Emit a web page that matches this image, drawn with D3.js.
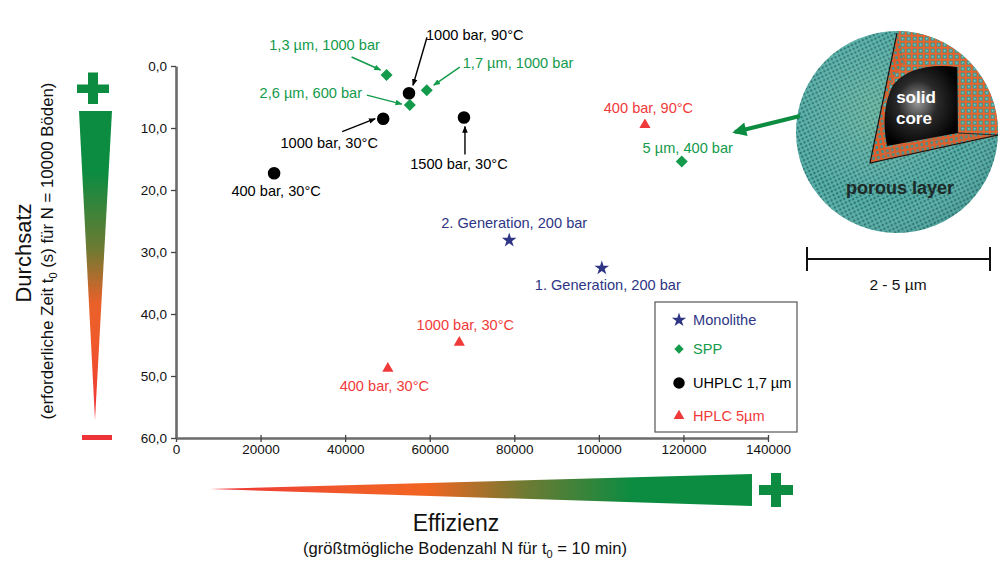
<!DOCTYPE html>
<html><head><meta charset="utf-8">
<script src="https://cdn.jsdelivr.net/npm/d3@7/dist/d3.min.js"></script>
<style>
html,body{margin:0;padding:0;background:#fff;}
svg{display:block;font-family:"Liberation Sans",Arial,sans-serif;}
</style></head>
<body>
<svg id="c" width="1000" height="567"></svg>
<script>
// ---------- data ----------
const xTicks = [0,20000,40000,60000,80000,100000,120000,140000];
const yTicks = [0,10,20,30,40,50,60];
const yTickLabels = ["0,0","10,0","20,0","30,0","40,0","50,0","60,0"];

const monolithe = [
  {x:100700, y:32.6, label:"1. Generation, 200 bar"},
  {x:78800,  y:28.1, label:"2. Generation, 200 bar"}
];
const spp = [
  {x:49800,  y:1.45, label:"1,3 µm, 1000 bar"},
  {x:59300,  y:3.9,  label:"1,7 µm, 1000 bar"},
  {x:55300,  y:6.3,  label:"2,6 µm, 600 bar"},
  {x:119600, y:15.4, label:"5 µm, 400 bar"}
];
const uhplc = [
  {x:55100, y:4.4,  label:"1000 bar, 90°C"},
  {x:49000, y:8.5,  label:"1000 bar, 30°C"},
  {x:68100, y:8.3,  label:"1500 bar, 30°C"},
  {x:23200, y:17.3, label:"400 bar, 30°C"}
];
const hplc = [
  {x:110900, y:9.5,  label:"400 bar, 90°C"},
  {x:67000,  y:44.6, label:"1000 bar, 30°C"},
  {x:50100,  y:48.8, label:"400 bar, 30°C"}
];
const legendNames = ["Monolithe","SPP","UHPLC 1,7 µm","HPLC 5µm"];

// ---------- layout (label offsets relative to marker, arrows) ----------
const layout = {
  monolithe:[{dx:6,dy:17,a:"middle"},{dx:5,dy:-17,a:"middle"}],
  spp:[{dx:-62,dy:-30,a:"middle",ar:[-35,-18,-6,-5]},
       {dx:36,dy:-27,a:"start",ar:[33,-23,7,-5]},
       {dx:-99,dy:-12,a:"middle",ar:[-43,-10,-8,-1]},
       {dx:6,dy:-13.5,a:"middle"}],
  uhplc:[{dx:17,dy:-58,a:"start",ar:[18,-56,4,-8]},
         {dx:-54,dy:24,a:"middle",ar:[-41,13,-8,0]},
         {dx:-5,dy:46.5,a:"middle",ar:[1,37,1,9]},
         {dx:2,dy:18,a:"middle"}],
  hplc:[{dx:3.5,dy:-17,a:"middle"},{dx:6,dy:-17.5,a:"middle"},{dx:-3.5,dy:17.5,a:"middle"}]
};
const colors = {monolithe:"#2e3584", spp:"#139a4a", uhplc:"#000", hplc:"#f03a3a"};
const green = "#0b8c41";

const svg = d3.select("#c");
const defs = svg.append("defs");

const x = d3.scaleLinear().domain([0,140000]).range([176,768]);
const y = d3.scaleLinear().domain([0,60]).range([66,438]);

// ---------- axes ----------
const gx = svg.append("g").attr("transform","translate(0,438)")
  .call(d3.axisBottom(x).tickValues(xTicks).tickFormat(d3.format("d")).tickSize(4).tickSizeOuter(0));
const gy = svg.append("g").attr("transform","translate(176,0)")
  .call(d3.axisLeft(y).tickValues(yTicks).tickFormat((d,i)=>yTickLabels[i]).tickSize(5).tickSizeOuter(0));
[gx,gy].forEach(g=>{
  g.select(".domain").attr("stroke","#6b6b6b").attr("stroke-width",2.6);
  g.selectAll(".tick line").attr("stroke","#444").attr("stroke-width",1.3);
  g.selectAll(".tick text").attr("font-size",13.5).attr("fill","#111")
    .attr("font-family","Liberation Sans, Arial, sans-serif");
});
gx.selectAll(".tick line").attr("y1",-3).attr("y2",4);
gx.selectAll(".tick text").attr("dy","0.6em").attr("y",8);
gy.selectAll(".tick text").attr("x",-9);

// ---------- markers ----------
const sym = {
  monolithe: d3.symbol().type(d3.symbolStar).size(66)(),
  spp: d3.symbol().type(d3.symbolSquare).size(72)(),
  uhplc: d3.symbol().type(d3.symbolCircle).size(124)(),
  hplc: d3.symbol().type(d3.symbolTriangle).size(54)()
};
const rot = {monolithe:0, spp:45, uhplc:0, hplc:0};
const series = {monolithe, spp, uhplc, hplc};

// arrow marker defs
["spp","uhplc"].forEach(k=>{
  defs.append("marker").attr("id","ah-"+k).attr("viewBox","0 0 10 10")
    .attr("refX",9).attr("refY",5).attr("markerWidth",7).attr("markerHeight",7)
    .attr("orient","auto-start-reverse").attr("markerUnits","userSpaceOnUse")
    .append("path").attr("d","M0,1 L10,5 L0,9 Z").attr("fill",colors[k]);
});

Object.keys(series).forEach(k=>{
  const g = svg.append("g");
  series[k].forEach((d,i)=>{
    const px = x(d.x), py = y(d.y), L = layout[k][i];
    g.append("path").attr("d",sym[k])
      .attr("transform",`translate(${px},${py}) rotate(${rot[k]})`)
      .attr("fill",colors[k]);
    g.append("text").attr("x",px+L.dx).attr("y",py+L.dy)
      .attr("text-anchor",L.a).attr("dominant-baseline","central")
      .attr("font-size",14.6).attr("fill",colors[k]).text(d.label);
    if(L.ar){
      g.append("line").attr("x1",px+L.ar[0]).attr("y1",py+L.ar[1])
        .attr("x2",px+L.ar[2]).attr("y2",py+L.ar[3])
        .attr("stroke",colors[k]).attr("stroke-width",1.4)
        .attr("marker-end",`url(#ah-${k})`);
    }
  });
});

// ---------- legend ----------
const lg = svg.append("g");
lg.append("rect").attr("x",655).attr("y",302).attr("width",142).attr("height",130)
  .attr("fill","#fff").attr("stroke","#555").attr("stroke-width",1.2);
const legSym = {
  monolithe: d3.symbol().type(d3.symbolStar).size(64)(),
  spp: d3.symbol().type(d3.symbolSquare).size(44)(),
  uhplc: d3.symbol().type(d3.symbolCircle).size(104)(),
  hplc: d3.symbol().type(d3.symbolTriangle).size(50)()
};
const legY = [320,349,383,416];
Object.keys(series).forEach((k,i)=>{
  lg.append("path").attr("d",legSym[k])
    .attr("transform",`translate(679,${legY[i]}) rotate(${rot[k]})`).attr("fill",colors[k]);
  lg.append("text").attr("x",693).attr("y",legY[i]).attr("dominant-baseline","central")
    .attr("font-size",14.6).attr("fill",colors[k]).text(legendNames[i]);
});

// ---------- gradient wedges ----------
const gv = defs.append("linearGradient").attr("id","gv").attr("x1",0).attr("y1",0).attr("x2",0).attr("y2",1);
[[0,green],[0.2,green],[0.45,"#6f7a32"],[0.62,"#e8612a"],[0.75,"#f05a2a"],[1,"#ee3338"]]
  .forEach(s=>gv.append("stop").attr("offset",s[0]).attr("stop-color",s[1]));
svg.append("path").attr("d","M79,111 L112,111 L95,420 Z").attr("fill","url(#gv)");
svg.append("rect").attr("x",77).attr("y",84.5).attr("width",32).attr("height",8.5).attr("fill",green);
svg.append("rect").attr("x",88).attr("y",72.5).attr("width",10).attr("height",31.5).attr("fill",green);
svg.append("rect").attr("x",82).attr("y",435).attr("width",30).attr("height",5).attr("fill","#ee3338");

const gh = defs.append("linearGradient").attr("id","gh").attr("x1",0).attr("y1",0).attr("x2",1).attr("y2",0);
[[0,"#ee3338"],[0.25,"#f05a2a"],[0.4,"#f26522"],[0.58,"#6f7a32"],[0.78,green],[1,green]]
  .forEach(s=>gh.append("stop").attr("offset",s[0]).attr("stop-color",s[1]));
svg.append("path").attr("d","M210,489 L752,474 L752,506 Z").attr("fill","url(#gh)");
svg.append("rect").attr("x",759).attr("y",485).attr("width",34).attr("height",10).attr("fill",green);
svg.append("rect").attr("x",771).attr("y",473).attr("width",10).attr("height",34).attr("fill",green);

// ---------- axis titles ----------
svg.append("text").attr("transform","translate(31,253) rotate(-90)")
  .attr("text-anchor","middle").attr("font-size",22).attr("fill","#111").text("Durchsatz");
const yt2 = svg.append("text").attr("transform","translate(53,251) rotate(-90)")
  .attr("text-anchor","middle").attr("font-size",16.8).attr("fill","#111");
yt2.append("tspan").text("(erforderliche Zeit t");
yt2.append("tspan").attr("font-size",11).attr("dy",4).text("0");
yt2.append("tspan").attr("dy",-4).text(" (s) für N = 10000 Böden)");

svg.append("text").attr("x",456).attr("y",531).attr("text-anchor","middle")
  .attr("font-size",23).attr("fill","#111").text("Effizienz");
const xt2 = svg.append("text").attr("x",465).attr("y",554).attr("text-anchor","middle")
  .attr("font-size",16.6).attr("fill","#111");
xt2.append("tspan").text("(größtmögliche Bodenzahl N für t");
xt2.append("tspan").attr("font-size",11).attr("dy",4).text("0");
xt2.append("tspan").attr("dy",-4).text(" = 10 min)");

// ---------- core-shell particle illustration ----------
const cx = 897, cy = 132, R = 101;
const pSurf = defs.append("pattern").attr("id","psurf").attr("width",4).attr("height",4)
  .attr("patternUnits","userSpaceOnUse").attr("patternTransform","rotate(-25)");
pSurf.append("rect").attr("width",4).attr("height",4).attr("fill","#4fa9a3");
pSurf.append("circle").attr("cx",1).attr("cy",1).attr("r",1.1).attr("fill","#2b6f6c");
pSurf.append("circle").attr("cx",3).attr("cy",3).attr("r",0.8).attr("fill","#6fbcb2");
const pCut = defs.append("pattern").attr("id","pcut").attr("width",6).attr("height",6)
  .attr("patternUnits","userSpaceOnUse");
pCut.append("rect").attr("width",6).attr("height",6).attr("fill","#e8642c");
pCut.append("rect").attr("x",0.7).attr("y",0.7).attr("width",4).attr("height",4).attr("fill","#3a9a95");
pCut.append("circle").attr("cx",2.7).attr("cy",2.7).attr("r",1).attr("fill","#7cc3bc");
const pSide = defs.append("pattern").attr("id","pside").attr("width",5).attr("height",5)
  .attr("patternUnits","userSpaceOnUse").attr("patternTransform","rotate(-10)");
pSide.append("rect").attr("width",5).attr("height",5).attr("fill","#e35b27");
pSide.append("rect").attr("x",1.5).attr("y",1).attr("width",2.5).attr("height",3).attr("fill","#3d9490");
const shade = defs.append("radialGradient").attr("id","shade").attr("cx","40%").attr("cy","40%").attr("r","65%");
shade.append("stop").attr("offset",0).attr("stop-color","#e8f0a0").attr("stop-opacity",0.18);
shade.append("stop").attr("offset",0.7).attr("stop-color","#ffffff").attr("stop-opacity",0);
shade.append("stop").attr("offset",1).attr("stop-color","#1c4d4a").attr("stop-opacity",0.15);
const coreG = defs.append("radialGradient").attr("id","coreg").attr("cx","0.45").attr("cy","0.45").attr("r","0.6");
coreG.append("stop").attr("offset",0).attr("stop-color","#9a9a9a");
coreG.append("stop").attr("offset",0.45).attr("stop-color","#2a2a2a");
coreG.append("stop").attr("offset",1).attr("stop-color","#000");

const pg = svg.append("g");
pg.append("circle").attr("cx",cx).attr("cy",cy).attr("r",R).attr("fill","url(#psurf)");
pg.append("circle").attr("cx",cx).attr("cy",cy).attr("r",R).attr("fill","url(#shade)");
// cut-away region
pg.append("path").attr("d",`M897,33 L870,163 L998,135 A${R} ${R} 0 0 0 897,31 Z`).attr("fill","url(#pcut)");
pg.append("path").attr("d","M897,34 L870,163 L888,148 L884,104 Q890,78 905,62 Z").attr("fill","url(#pside)");
pg.append("path").attr("d","M870,163 L998,136 L958,133 L888,147 Z").attr("fill","url(#pside)").attr("opacity",0.85);
pg.append("path").attr("d","M958,133 L887,146 Q880,110 893,85 Q912,62 957,67 Z").attr("fill","url(#coreg)");
pg.append("path").attr("d","M897,33 L870,163 L998,135").attr("fill","none").attr("stroke","#111").attr("stroke-width",1.2);
pg.append("path").attr("d","M958,133 L998,135 M957,67 L957,133").attr("fill","none").attr("stroke","#111").attr("stroke-width",0.8);
pg.append("text").attr("x",916).attr("y",103).attr("text-anchor","middle").attr("font-size",17)
  .attr("font-weight","bold").attr("fill","#fff").text("solid");
pg.append("text").attr("x",914).attr("y",124).attr("text-anchor","middle").attr("font-size",17)
  .attr("font-weight","bold").attr("fill","#fff").text("core");
pg.append("text").attr("x",900).attr("y",194).attr("text-anchor","middle").attr("font-size",18)
  .attr("font-weight","bold").attr("fill","#1d2a28").text("porous layer");

// arrow from particle to SPP point
defs.append("marker").attr("id","ahg").attr("viewBox","0 0 10 10").attr("refX",8).attr("refY",5)
  .attr("markerWidth",16).attr("markerHeight",14).attr("orient","auto").attr("markerUnits","userSpaceOnUse")
  .append("path").attr("d","M0,0 L10,5 L0,10 Z").attr("fill",green);
svg.append("line").attr("x1",800).attr("y1",116).attr("x2",735).attr("y2",132)
  .attr("stroke",green).attr("stroke-width",4).attr("marker-end","url(#ahg)");

// scale bar
svg.append("path").attr("d","M807,259 L990,259 M807,247 L807,271 M990,247 L990,271")
  .attr("stroke","#111").attr("stroke-width",2).attr("fill","none");
svg.append("text").attr("x",898).attr("y",290).attr("text-anchor","middle").attr("font-size",15.5)
  .attr("fill","#111").text("2 - 5 µm");
</script>
</body></html>
